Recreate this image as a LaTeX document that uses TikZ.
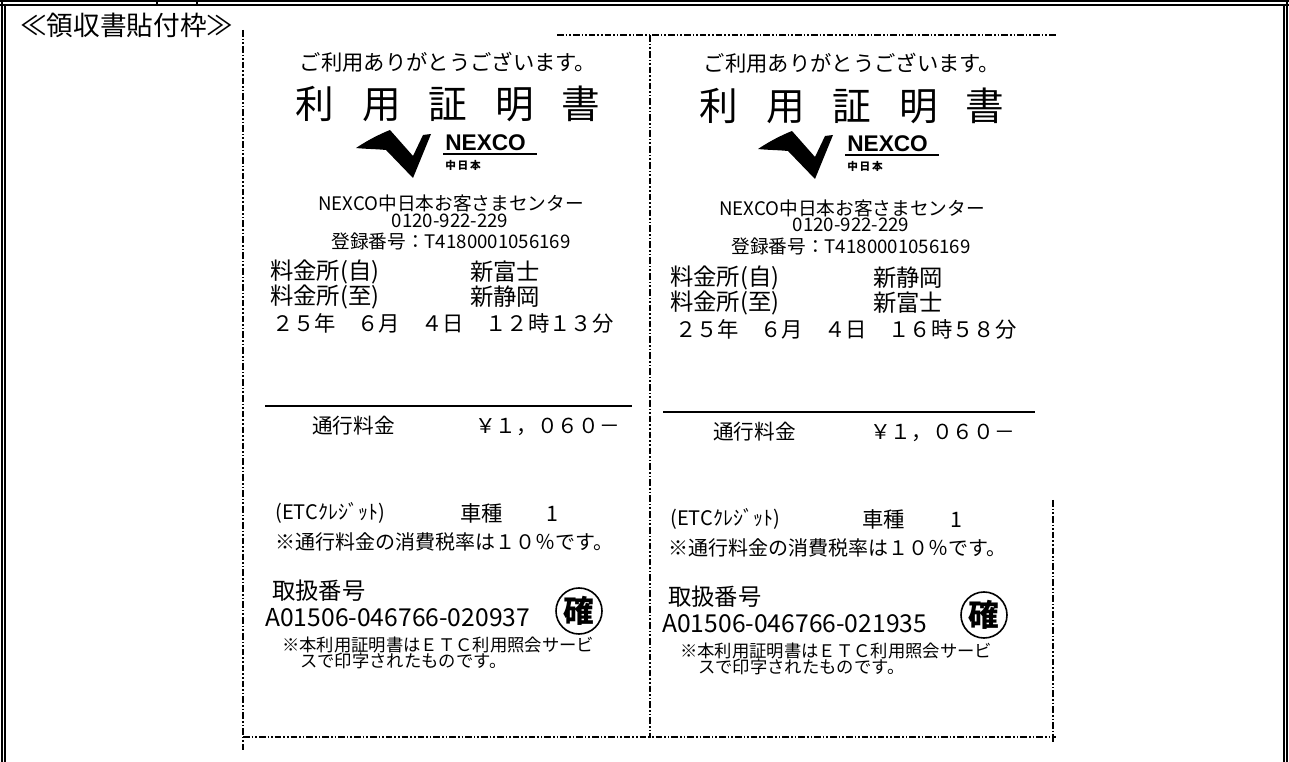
\documentclass[tikz,border=0pt]{standalone}
\usepackage{fontspec}
\setmainfont{Noto Sans CJK JP}
\newfontfamily\logofont{Liberation Sans}
\usepackage{tikz}

\begin{document}
\begin{tikzpicture}[x=0.75pt, y=-0.75pt, inner sep=0pt,
  cutline/.style={line width=1.3pt, dash pattern=on 5pt off 1.5pt on 1.2pt off 1.5pt on 1.2pt off 1.5pt},
  frameline/.style={line width=0.9pt},
  headtxt/.style={font=\fontsize{20}{24}\selectfont},
  thankstxt/.style={font=\fontsize{16}{18}\selectfont},
  titletxt/.style={font=\fontsize{29}{34}\selectfont},
  infotxt/.style={font=\fontsize{14}{16}\selectfont},
  bodytxt/.style={font=\fontsize{17.5}{20}\selectfont, anchor=west},
  datetxt/.style={font=\fontsize{16}{19}\selectfont, anchor=west},
  tolltxt/.style={font=\fontsize{15.5}{18}\selectfont, anchor=west},
  etctxt/.style={font=\fontsize{15}{17}\selectfont, anchor=west},
  taxtxt/.style={font=\fontsize{15}{18}\selectfont, anchor=west},
  numtxt/.style={font=\fontsize{18.5}{21}\selectfont, anchor=west},
  notetxt/.style={font=\fontsize{13}{15}\selectfont, anchor=west},
  stamp/.style={draw, circle, line width=1.2pt, minimum size=34.5pt, font=\fontsize{23}{26}\selectfont\bfseries},
  logotxt/.style={font=\logofont\fontsize{17}{19}\selectfont\bfseries, anchor=west},
  logosub/.style={font=\fontsize{8}{10}\selectfont\bfseries, anchor=west}
]
  \useasboundingbox (0,0) rectangle (1289,762);

  % Outer frame
  \draw[frameline] (0,5) -- (1289,5);
  \draw[frameline] (0,1) -- (1289,1);
  \draw[frameline] (157,1) -- (157,5);
  \draw[frameline] (197,1) -- (197,5);
  \draw[frameline] (2,1) -- (2,762);
  \draw[frameline] (5,5) -- (5,762);
  \draw[frameline] (1284,5) -- (1284,762);
  \draw[frameline] (1287,1) -- (1287,762);
  \node[headtxt] (head) at (127,25) {≪領収書貼付枠≫};

  % Cut lines
  \draw[cutline] (243,30) -- (243,750);
  \draw[cutline] (557,35) -- (1056,35);
  \draw[cutline] (650,35) -- (650,738);
  \draw[cutline] (243,737) -- (1056,737);
  \draw[cutline] (1053,500) -- (1053,742);

  % Left receipt
  \node[thankstxt] (thanksL) at (448,62) {ご利用ありがとうございます。};
  \node[titletxt] (titleL) at (448,104) {利\hspace{0.72em}用\hspace{0.72em}証\hspace{0.72em}明\hspace{0.72em}書};
  \fill (356,148) .. controls (368,140) and (380,134) .. (390,130) -- (413,156) -- (423,135)
    -- (431,134) -- (413,178) -- (386,150) .. controls (376,149) and (365,149) .. cycle;
  \node[logotxt] (nexcoL) at (445,143) {NEXCO};
  \draw[line width=0.9pt] (443,154) -- (537,154);
  \node[logosub] (chuL) at (445,165) {中\,日\,本};
  \node[infotxt] (centerL) at (451,203) {NEXCO中日本お客さまセンター};
  \node[infotxt] (telL) at (450,221) {0120-922-229};
  \node[infotxt] (regL) at (451,241) {登録番号：T4180001056169};
  \node[bodytxt] (fromL) at (270,272) {料金所(自)};
  \node[bodytxt] (fromnameL) at (470,272) {新富士};
  \node[bodytxt] (toL) at (270,297) {料金所(至)};
  \node[bodytxt] (tonameL) at (470,297) {新静岡};
  \node[datetxt] (dateL) at (272,323) {２５年　６月　４日　１２時１３分};
  \draw[line width=1.3pt] (265,406) -- (632,406);
  \node[tolltxt] (tollL) at (312,426) {通行料金};
  \node[tolltxt] (yenL) at (475,427) {￥１，０６０－};
  \node[etctxt] (etcL) at (275,513) {(ETCｸﾚｼﾞｯﾄ)};
  \node[datetxt] (carL) at (460,513) {車種};
  \node[datetxt] (classL) at (546,514) {1};
  \node[taxtxt] (taxL) at (275,542) {※通行料金の消費税率は１０％です。};
  \node[bodytxt] (handleL) at (272,591) {取扱番号};
  \node[numtxt] (numL) at (265,618) {A01506-046766-020937};
  \node[stamp] (stampL) at (579,611) {確};
  \node[notetxt] (noteL) at (282,645) {※本利用証明書はＥＴＣ利用照会サービ};
  \node[notetxt] (note2L) at (300,661) {スで印字されたものです。};

  % Right receipt
  \node[thankstxt] (thanksR) at (852,63) {ご利用ありがとうございます。};
  \node[titletxt] (titleR) at (852,106) {利\hspace{0.72em}用\hspace{0.72em}証\hspace{0.72em}明\hspace{0.72em}書};
  \fill (758,149) .. controls (770,141) and (782,135) .. (792,131) -- (815,157) -- (825,136)
    -- (833,135) -- (815,179) -- (788,151) .. controls (778,150) and (767,150) .. cycle;
  \node[logotxt] (nexcoR) at (847,144) {NEXCO};
  \draw[line width=0.9pt] (845,155) -- (939,155);
  \node[logosub] (chuR) at (847,166) {中\,日\,本};
  \node[infotxt] (centerR) at (852,208) {NEXCO中日本お客さまセンター};
  \node[infotxt] (telR) at (851,225) {0120-922-229};
  \node[infotxt] (regR) at (851,246) {登録番号：T4180001056169};
  \node[bodytxt] (fromR) at (670,278) {料金所(自)};
  \node[bodytxt] (fromnameR) at (873,278) {新静岡};
  \node[bodytxt] (toR) at (670,303) {料金所(至)};
  \node[bodytxt] (tonameR) at (873,303) {新富士};
  \node[datetxt] (dateR) at (675,329) {２５年　６月　４日　１６時５８分};
  \draw[line width=1.3pt] (663,412) -- (1035,412);
  \node[tolltxt] (tollR) at (713,432) {通行料金};
  \node[tolltxt] (yenR) at (870,433) {￥１，０６０－};
  \node[etctxt] (etcR) at (670,519) {(ETCｸﾚｼﾞｯﾄ)};
  \node[datetxt] (carR) at (862,519) {車種};
  \node[datetxt] (classR) at (950,520) {1};
  \node[taxtxt] (taxR) at (668,548) {※通行料金の消費税率は１０％です。};
  \node[bodytxt] (handleR) at (668,597) {取扱番号};
  \node[numtxt] (numR) at (662,624) {A01506-046766-021935};
  \node[stamp] (stampR) at (984,615) {確};
  \node[notetxt] (noteR) at (680,651) {※本利用証明書はＥＴＣ利用照会サービ};
  \node[notetxt] (note2R) at (698,667) {スで印字されたものです。};
\end{tikzpicture}
\end{document}
